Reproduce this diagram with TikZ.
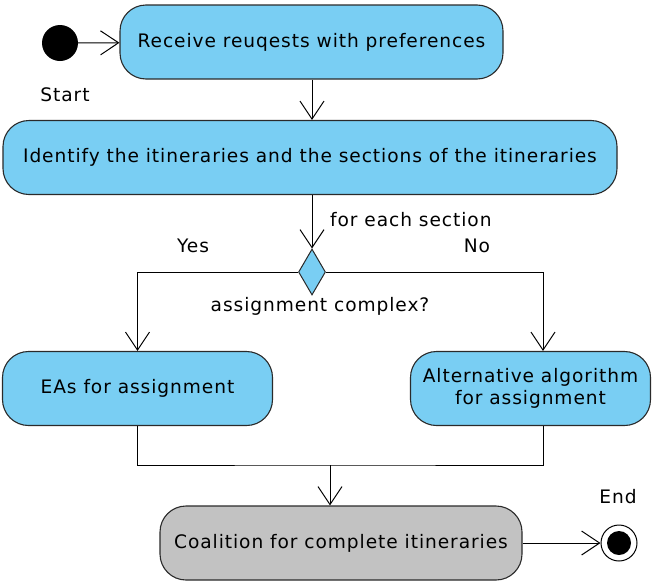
\documentclass[tikz,border=0pt]{standalone}
\usepackage{fontspec}
\setmainfont[LetterSpace=5]{DejaVu Sans}
\usetikzlibrary{arrows.meta,shapes.geometric}
\definecolor{actblue}{HTML}{79CEF3}
\definecolor{actgray}{HTML}{C2C2C2}
\definecolor{edge}{HTML}{2A2A2A}
\tikzset{
  x=1pt,y=-1pt,
  act/.style={draw=edge,line width=1.1pt,rounded corners=26pt,fill=actblue,font=\fontsize{18.6}{22}\selectfont,align=center,inner sep=0pt},
  lbl/.style={font=\fontsize{18.6}{22}\selectfont,inner sep=0pt},
  flow/.style={draw=black,line width=1pt,-{Straight Barb[length=18pt,width=24pt,line width=1pt]}},
  plain/.style={draw=black,line width=1pt}
}
\begin{document}
\begin{tikzpicture}
\useasboundingbox (0,0) rectangle (652,581);
% start
\node[circle,fill=black,minimum size=36pt,inner sep=0pt] (start) at (60,43) {};
\node[lbl] (startl) at (65,95) {Start};
% activities
\node[act,minimum width=383pt,minimum height=74pt] (recv) at (311.5,42) {Receive reuqests with preferences};
\node[act,minimum width=614pt,minimum height=74pt] (ident) at (310,157.5) {Identify the itineraries and the sections of the itineraries};
\node[diamond,draw=edge,line width=1pt,fill=actblue,minimum width=27pt,minimum height=46pt,inner sep=0pt,aspect=0.6] (dec) at (312,272) {};
\node[act,minimum width=270pt,minimum height=74pt] (eas) at (137.5,388.5) {EAs for assignment};
\node[act,minimum width=240pt,minimum height=74pt] (alt) at (530.5,388.5) {Alternative algorithm\\for assignment};
\node[act,fill=actgray,minimum width=362pt,minimum height=74pt] (coal) at (341,543) {Coalition for complete itineraries};
% end
\node[circle,draw=black,line width=1pt,fill=white,minimum size=36pt,inner sep=0pt] (end) at (619,543) {};
\node[circle,fill=black,minimum size=24pt,inner sep=0pt] (endin) at (end.center) {};
\node[lbl] (endl) at (618,497) {End};
% labels
\node[lbl,anchor=west] (fes) at (330,220) {for each section};
\node[lbl] (yes) at (193,246) {Yes};
\node[lbl] (no) at (477,246) {No};
\node[lbl] (ac) at (320,306) {assignment complex?};
% connectors
\draw[flow] (start) -- (recv);
\draw[flow] (recv.south -| 312,0) -- (ident.north -| 312,0);
\draw[flow] (ident.south -| dec) -- (dec.north);
\draw[flow] (dec.west) -| (eas.north);
\draw[flow] (dec.east) -| (alt.north -| 543,0);
\coordinate (join) at (330,465);
\draw[plain] (eas.south) |- (join) -| (alt.south -| 543,0);
\draw[flow] (join) -- (coal.north -| join);
\draw[flow] (coal.east) -- (end.west);
\end{tikzpicture}
\end{document}
